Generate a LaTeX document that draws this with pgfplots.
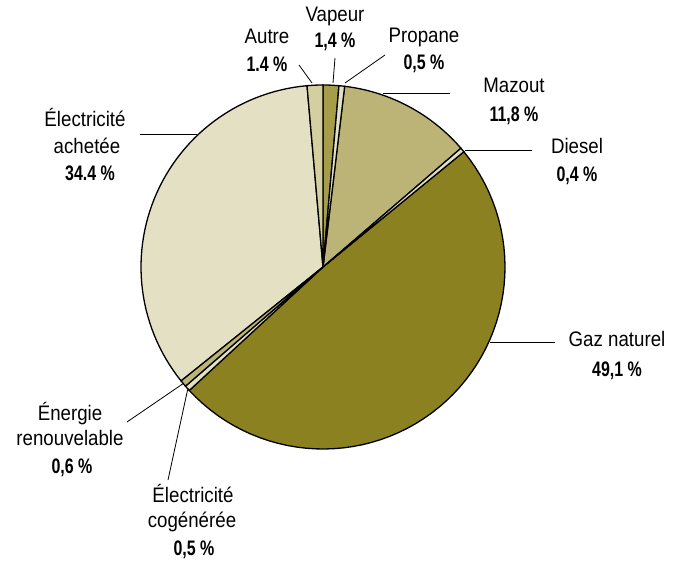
\documentclass[border=0pt]{standalone}
\usepackage{pgfplots}
\pgfplotsset{compat=1.18}
\usepackage{fontspec}
\setmainfont{Liberation Sans}[FakeStretch=0.89]
\newfontfamily\bnum{Liberation Sans Bold}[FakeStretch=0.76]
\definecolor{cream}{HTML}{E4E0C4}
\definecolor{medol}{HTML}{BCB476}
\definecolor{darkol}{HTML}{8B8120}
\definecolor{vapc}{HTML}{A69D4A}
\definecolor{autc}{HTML}{D3CFA0}
% \slice{cumulative start (%)}{value (%)}{colour}
\newcommand{\slice}[3]{%
  \addplot[draw=black, line width=1.3pt, fill=#3, domain={(#1)*360/100.1}:{(#1+#2)*360/100.1}, samples=60]
    ({323+182*sin(x)},{293+182*cos(x)}) -- (axis cs:323,293) -- cycle;}
\newcommand{\lab}[4]{% x, baseline, text
  \node[anchor=base, inner sep=0pt, font=\fontsize{21}{24}\selectfont] at (axis cs:#1,#2) {#3};}
\newcommand{\num}[3]{%
  \node[anchor=base, inner sep=0pt, font=\fontsize{21}{24}\selectfont\bnum] at (axis cs:#1,#2) {#3};}
\begin{document}
\begin{tikzpicture}
\useasboundingbox (0,0) rectangle (684pt,560pt);
\begin{axis}[x=1pt, y=1pt, xmin=0, xmax=684, ymin=0, ymax=560, hide axis, clip=false, anchor=origin, at={(0,0)}]
% data: Vapeur 1.4, Propane 0.5, Mazout 11.8, Diesel 0.4, Gaz naturel 49.1,
% Electricite cogeneree 0.5, Energie renouvelable 0.6, Electricite achetee 34.4, Autre 1.4
\slice{14.1}{49.1}{darkol}
\slice{64.3}{34.4}{cream}
\slice{1.9}{11.8}{medol}
\slice{0}{1.4}{vapc}
\slice{1.4}{0.5}{cream}
\slice{13.7}{0.4}{cream}
\slice{63.2}{0.5}{cream}
\slice{63.7}{0.6}{medol}
\slice{98.7}{1.4}{autc}
% leader lines
\draw[line width=0.8pt] (axis cs:335,502) -- (axis cs:333,477);
\draw[line width=0.8pt] (axis cs:299,495) -- (axis cs:312,477);
\draw[line width=0.8pt] (axis cs:385,505) -- (axis cs:345,477);
\draw[line width=0.8pt] (axis cs:383,467) -- (axis cs:450,467);
\draw[line width=0.8pt] (axis cs:465,410) -- (axis cs:532,410);
\draw[line width=0.8pt] (axis cs:490,218) -- (axis cs:555,218);
\draw[line width=0.8pt] (axis cs:140,426) -- (axis cs:197,426);
\draw[line width=0.8pt] (axis cs:127,138) -- (axis cs:184,177);
\draw[line width=0.8pt] (axis cs:168,80) -- (axis cs:188,172);
% labels
\lab{335}{538}{Vapeur}{} \num{335}{512}{1,4 \%}
\lab{267}{516}{Autre}{} \num{267}{488}{1.4 \%}
\lab{424}{517}{Propane}{} \num{424}{490}{0,5 \%}
\lab{514}{467}{Mazout}{} \num{514}{438}{11,8 \%}
\lab{577}{406}{Diesel}{} \num{577}{378}{0,4 \%}
\lab{617}{214}{Gaz naturel}{} \num{617}{184}{49,1 \%}
\lab{85}{433}{Électricité}{} \lab{87}{406}{achetée}{} \num{90}{379}{34.4 \%}
\lab{70}{140}{Énergie}{} \lab{70}{115}{renouvelable}{} \num{72}{87}{0,6 \%}
\lab{193}{58}{Électricité}{} \lab{192}{33}{cogénérée}{} \num{194}{5}{0,5 \%}
\end{axis}
\end{tikzpicture}
\end{document}
